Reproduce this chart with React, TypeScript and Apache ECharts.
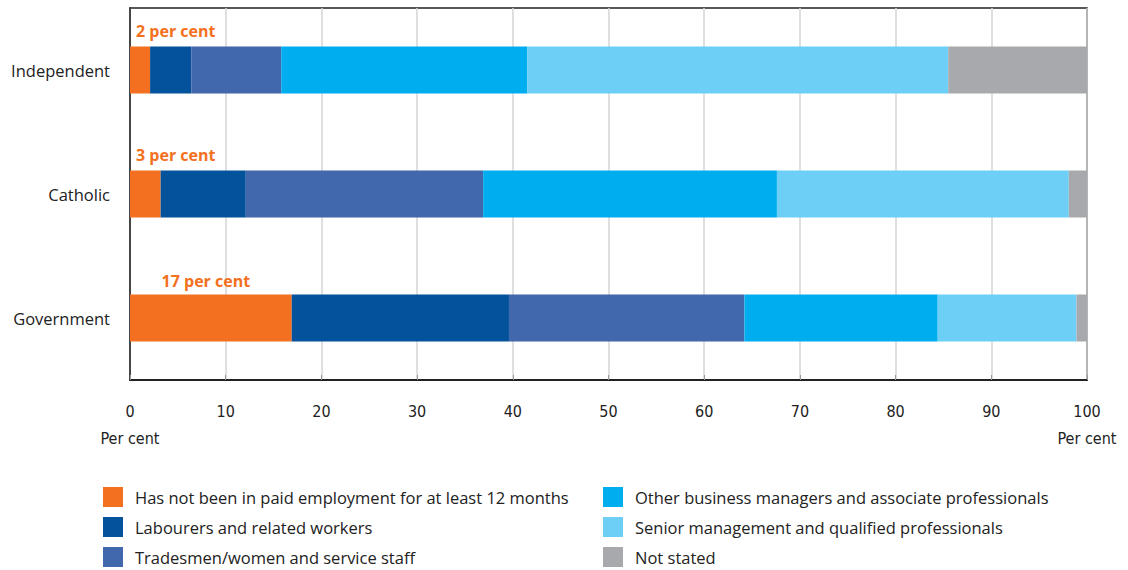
import React, { useEffect, useRef } from "react";
import * as echarts from "echarts";

const categories = ["Independent", "Catholic", "Government"];
const seriesNames = [
  "Has not been in paid employment for at least 12 months",
  "Labourers and related workers",
  "Tradesmen/women and service staff",
  "Other business managers and associate professionals",
  "Senior management and qualified professionals",
  "Not stated",
];
const notEmployed = [2.1, 3.2, 16.9];
const labourers = [4.3, 8.9, 22.7];
const tradesmen = [9.4, 24.8, 24.6];
const otherManagers = [25.7, 30.7, 20.2];
const seniorMgmt = [44.0, 30.5, 14.5];
const notStated = [14.5, 1.9, 1.1];
const orangeLabels = ["2 per cent", "3 per cent", "17 per cent"];
const colors = ["#F37021", "#04529C", "#4167AC", "#00AEEF", "#6DCFF6", "#A7A9AC"];
const xTicks = [0, 10, 20, 30, 40, 50, 60, 70, 80, 90, 100];

const FONT = "'Open Sans', 'Noto Sans', sans-serif";
const NARROW = "'DejaVu Sans Condensed', 'Liberation Sans Narrow', 'Open Sans', sans-serif";

export default function App() {
  const ref = useRef<HTMLDivElement>(null);
  useEffect(() => {
    if (!ref.current) return;
    const chart = echarts.init(ref.current, undefined, { renderer: "svg" });
    const values = [notEmployed, labourers, tradesmen, otherManagers, seniorMgmt, notStated];
    const series: any[] = values.map((vals, i) => ({
      name: seriesNames[i],
      type: "bar",
      stack: "total",
      barWidth: 47,
      itemStyle: { color: colors[i] },
      data:
        i === 0
          ? vals.map((v, j) => ({
              value: v,
              label: {
                show: true,
                formatter: orangeLabels[j],
                color: "#F37021",
                fontWeight: "bold",
                fontSize: 16,
                fontFamily: FONT,
                ...(v < 10
                  ? { position: [6, -8], align: "left", verticalAlign: "bottom" }
                  : { position: "top", distance: 6, offset: [-5, 0] }),
              },
            }))
          : vals,
    }));
    const legendBase = {
      orient: "vertical",
      top: 487,
      padding: 0,
      height: 90,
      itemWidth: 20,
      itemHeight: 20,
      itemGap: 10,
      icon: "rect",
      textStyle: { fontSize: 16.5, fontFamily: FONT, color: "#222", padding: [0, 0, 0, 7] },
    };
    chart.setOption({
      animation: false,
      grid: {
        left: 130,
        right: 41,
        top: 8,
        bottom: 190,
        show: true,
        borderColor: "#222",
        borderWidth: 1.5,
        containLabel: false,
      },
      legend: [
        { ...legendBase, data: seriesNames.slice(0, 3), left: 103 },
        { ...legendBase, data: seriesNames.slice(3), left: 603 },
      ],
      xAxis: {
        type: "value",
        min: xTicks[0],
        max: xTicks[xTicks.length - 1],
        interval: 10,
        axisLine: { show: true, lineStyle: { color: "#222", width: 2 } },
        axisTick: { show: true, inside: true, length: 5, lineStyle: { color: "#999" } },
        splitLine: { show: true, lineStyle: { color: "#d4d4d4", width: 1.5 } },
        axisLabel: {
          margin: 18,
          fontSize: 16,
          lineHeight: 27,
          fontFamily: NARROW,
          color: "#222",
          formatter: (v: number) =>
            v === xTicks[0] || v === xTicks[xTicks.length - 1] ? `${v}\nPer cent` : `${v}`,
        },
      },
      yAxis: {
        type: "category",
        data: categories,
        inverse: true,
        axisLine: { show: true, lineStyle: { color: "#222", width: 1.5 } },
        axisTick: { show: false },
        axisLabel: { margin: 20, fontSize: 16.5, fontFamily: FONT, color: "#222" },
      },
      series,
    });
    return () => chart.dispose();
  }, []);
  return (
    <div
      ref={ref}
      style={{ position: "absolute", left: 0, top: 0, width: 1128, height: 570 }}
    />
  );
}
